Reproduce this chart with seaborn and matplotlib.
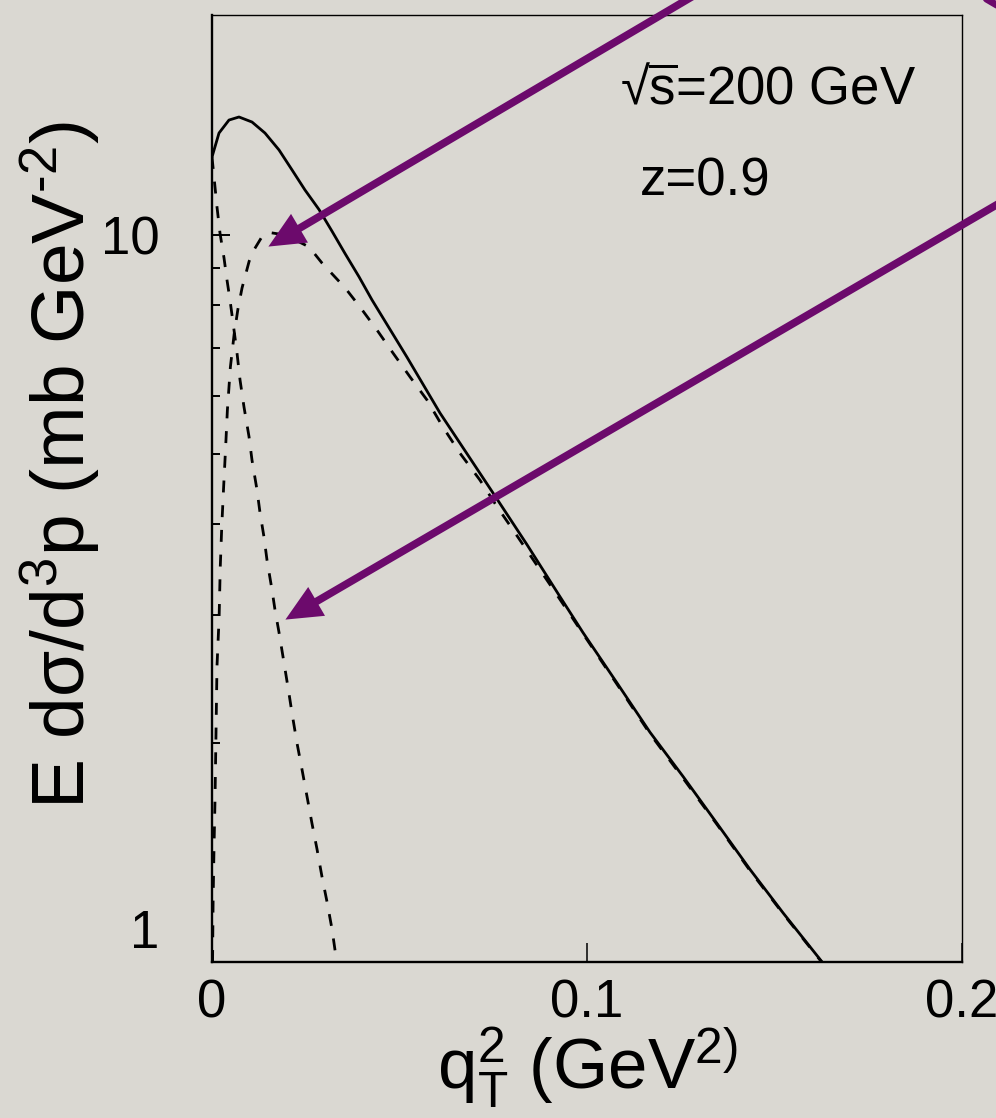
import numpy as np
import pandas as pd
import matplotlib
matplotlib.use("Agg")
import matplotlib.pyplot as plt
from matplotlib.patches import FancyArrowPatch
from matplotlib.lines import Line2D
from matplotlib.ticker import FixedLocator, FixedFormatter, NullFormatter
import seaborn as sns

# ---- curve values: invariant cross section vs q_T^2 ----
total_q2 = [0.0, 0.00187, 0.00453, 0.0072, 0.01067, 0.01413, 0.01787, 0.02133,
            0.0248, 0.02853, 0.032, 0.03547, 0.0392, 0.04267, 0.052, 0.0608,
            0.0696, 0.0749, 0.084, 0.0928, 0.0989, 0.108, 0.1168, 0.1256,
            0.1347, 0.1435, 0.1523, 0.1627, 0.165]
total_val = [12.8, 13.81, 14.39, 14.53, 14.30, 13.81, 13.09, 12.29,
             11.53, 10.84, 10.12, 9.43, 8.76, 8.14, 6.79, 5.69,
             4.86, 4.42, 3.75, 3.18, 2.84, 2.42, 2.07, 1.80,
             1.55, 1.34, 1.168, 1.0, 0.95]

rise_q2 = [0.00015, 0.0003, 0.00053, 0.0008, 0.00107, 0.00133, 0.0019, 0.0022,
           0.0026, 0.0031, 0.0036, 0.0041, 0.0049, 0.0059, 0.0069, 0.0080,
           0.0099, 0.0112, 0.0133, 0.0152, 0.0195, 0.02587, 0.02933, 0.03547,
           0.03947, 0.044, 0.04827, 0.0528, 0.05733, 0.0616, 0.06613, 0.07147,
           0.076, 0.08027, 0.0909, 0.0989, 0.108, 0.1168, 0.1256, 0.1347,
           0.1435, 0.1523, 0.1627, 0.165]
rise_val = [1.0, 1.22, 1.43, 1.67, 2.07, 2.55, 2.98, 3.49,
            3.97, 4.50, 5.06, 5.74, 6.58, 7.30, 7.90, 8.45,
            9.20, 9.54, 9.94, 10.08, 10.0, 9.63, 9.15, 8.46,
            7.96, 7.40, 6.88, 6.38, 5.93, 5.44, 5.01, 4.60,
            4.23, 3.93, 3.26, 2.83, 2.41, 2.06, 1.79, 1.545,
            1.335, 1.165, 0.998, 0.95]

fall_q2 = [0.0, 0.00053, 0.00133, 0.00213, 0.0032, 0.004, 0.0048, 0.00587,
           0.00667, 0.00747, 0.00853, 0.00987, 0.01067, 0.012, 0.0128, 0.01387,
           0.01467, 0.016, 0.0168, 0.01787, 0.0192, 0.02053, 0.02133, 0.02267,
           0.024, 0.02533, 0.02667, 0.028, 0.02933, 0.03067, 0.032, 0.03307, 0.0335]
fall_val = [12.8, 12.02, 10.93, 10.06, 9.30, 8.67, 8.14, 7.40,
            6.88, 6.32, 5.80, 5.28, 4.90, 4.46, 4.15, 3.84,
            3.57, 3.25, 3.05, 2.84, 2.58, 2.34, 2.20, 2.00,
            1.84, 1.69, 1.55, 1.43, 1.31, 1.21, 1.11, 1.016, 0.98]

x_ticks = [0.0, 0.1, 0.2]
x_tick_labels = ["0", "0.1", "0.2"]
y_ticks = [10]
y_tick_labels = ["10"]
y_minor_ticks = [2, 3, 4, 5, 6, 7, 8, 9]

BG = "#dad8d2"
PURPLE = "#6c0a6c"

sns.set_theme(style="ticks")
plt.rcParams["font.family"] = ["Liberation Sans", "DejaVu Sans"]
plt.rcParams["mathtext.fontset"] = "custom"
plt.rcParams["mathtext.rm"] = "Liberation Sans"
plt.rcParams["mathtext.it"] = "Liberation Sans:italic"
plt.rcParams["mathtext.bf"] = "Liberation Sans:bold"
plt.rcParams["mathtext.sf"] = "Liberation Sans"
for key in ["text.color", "axes.labelcolor", "xtick.color", "ytick.color",
            "axes.edgecolor"]:
    plt.rcParams[key] = "black"

W, H = 996, 1118
fig = plt.figure(figsize=(W / 100, H / 100), dpi=100)
fig.patch.set_facecolor(BG)
ax = fig.add_axes([212 / W, 1 - 962 / H, 750 / W, 947 / H])
ax.set_facecolor(BG)

df = pd.concat([
    pd.DataFrame({"q2": total_q2, "val": total_val, "part": "total"}),
    pd.DataFrame({"q2": rise_q2, "val": rise_val, "part": "rise"}),
    pd.DataFrame({"q2": fall_q2, "val": fall_val, "part": "fall"}),
], ignore_index=True)

dash = (4.3, 4.6)
sns.lineplot(data=df, x="q2", y="val", style="part",
             dashes={"total": "", "rise": dash, "fall": dash},
             color="black", linewidth=2.0, estimator=None, sort=False,
             legend=False, ax=ax)

ax.set_yscale("log")
ax.set_xlim(0, 0.2)
ax.set_ylim(1, 20.07)

ax.xaxis.set_major_locator(FixedLocator(x_ticks))
ax.xaxis.set_major_formatter(FixedFormatter(x_tick_labels))
ax.xaxis.set_minor_locator(FixedLocator([]))
ax.yaxis.set_major_locator(FixedLocator(y_ticks))
ax.yaxis.set_major_formatter(FixedFormatter(y_tick_labels))
ax.yaxis.set_minor_locator(FixedLocator(y_minor_ticks))
ax.yaxis.set_minor_formatter(NullFormatter())

ax.tick_params(axis="both", which="both", direction="in", colors="black",
               labelsize=38, top=False, right=False)
ax.tick_params(axis="y", which="major", length=13, width=1.4, pad=38)
ax.tick_params(axis="y", which="minor", length=6, width=1.4)
ax.tick_params(axis="x", which="major", length=14, width=1.1, pad=12)

for side in ["left", "bottom"]:
    ax.spines[side].set_linewidth(1.7)
for side in ["top", "right"]:
    ax.spines[side].set_linewidth(1.0)

# lowest decade label sits slightly above its tick
ax.annotate("1", xy=(0, 1), xycoords=("axes fraction", "data"),
            xytext=(-53, 28), textcoords="offset pixels",
            ha="right", va="center", fontsize=38, color="black")

ax.set_xlabel(r"q$_\mathrm{T}^\mathrm{2}$ (GeV$^\mathrm{2)}$", fontsize=51)
ax.set_ylabel(r"E dσ/d$^\mathrm{3}$p (mb GeV$^\text{-2}$)", fontsize=54)
ax.xaxis.set_label_coords(0.5, -0.067)
ax.yaxis.set_label_coords(-0.145, 0.525)
ax.xaxis.label.set_va("top")

ax.text(0.1088, 15.8, r"√$\overline{\mathrm{s}}$=200 GeV",
        fontsize=38, ha="left", va="center")
ax.text(0.1142, 11.83, "z=0.9", fontsize=38, ha="left", va="center")

# pointer arrows (figure pixel coordinates converted to fractions)
def fig_pt(px, py):
    return (px / W, 1 - py / H)

arrow_kw = dict(arrowstyle="simple,head_length=2.6,head_width=2.4,tail_width=0.55",
                mutation_scale=10, color=PURPLE, lw=0,
                transform=fig.transFigure, clip_on=False)
fig.add_artist(FancyArrowPatch(fig_pt(700, -8), fig_pt(266, 248), **arrow_kw))
fig.add_artist(FancyArrowPatch(fig_pt(1010, 197), fig_pt(283, 621), **arrow_kw))
fig.add_artist(Line2D([983 / W, 1000 / W], [1 - (-3) / H, 1 - 7 / H],
                      transform=fig.transFigure, color=PURPLE, lw=5))

fig.savefig("out.png", dpi=100, facecolor=BG)
